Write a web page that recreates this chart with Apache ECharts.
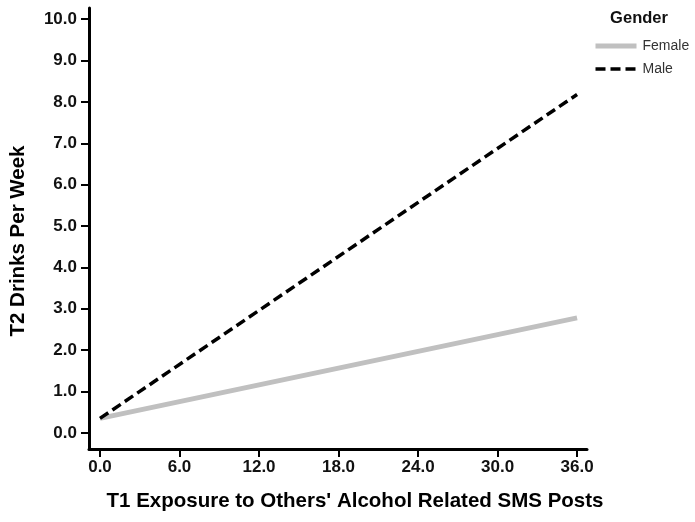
<!DOCTYPE html>
<html>
<head>
<meta charset="utf-8">
<script src="https://cdn.jsdelivr.net/npm/echarts@6/dist/echarts.min.js"></script>
<style>
html,body{margin:0;padding:0;background:#fff;}
#main{width:695px;height:522px;}
</style>
</head>
<body>
<div id="main"></div>
<script>
var exposure = [0, 36];
var female = [0.35, 2.78];
var male = [0.35, 8.18];
var xTicks = [0, 6, 12, 18, 24, 30, 36];
var yTicks = [0, 1, 2, 3, 4, 5, 6, 7, 8, 9, 10];
var seriesNames = ['Female', 'Male'];
var xTitle = "T1 Exposure to Others' Alcohol Related SMS Posts";
var yTitle = 'T2 Drinks Per Week';
var legendTitle = 'Gender';

function pairs(xs, ys) { return xs.map(function (x, i) { return [x, ys[i]]; }); }

var FONT = '"Liberation Sans", Arial, sans-serif';
var chart = echarts.init(document.getElementById('main'), null, {renderer: 'canvas'});
chart.setOption({
  animation: false,
  backgroundColor: '#fff',
  grid: {left: 89, right: 108, top: 8, bottom: 73, containLabel: false},
  xAxis: {
    type: 'value', min: -0.83, max: 36.75,
    splitLine: {show: false},
    axisLine: {show: true, onZero: false, lineStyle: {color: '#000', width: 3}},
    axisTick: {show: true, length: 8, lineStyle: {color: '#000', width: 2}, customValues: xTicks},
    axisLabel: {color: '#111', fontFamily: FONT, fontWeight: 'bold', fontSize: 17, margin: 10,
      customValues: xTicks, formatter: function (v) { return v.toFixed(1); }}
  },
  yAxis: {
    type: 'value', min: -0.39, max: 10.27,
    splitLine: {show: false},
    axisLine: {show: true, onZero: false, lineStyle: {color: '#000', width: 3}},
    axisTick: {show: true, length: 8, lineStyle: {color: '#000', width: 2}, customValues: yTicks},
    axisLabel: {color: '#111', fontFamily: FONT, fontWeight: 'bold', fontSize: 17, margin: 12,
      customValues: yTicks, formatter: function (v) { return v.toFixed(1); }}
  },
  legend: {
    orient: 'vertical', left: 593, top: 39, padding: 0, itemWidth: 41, itemHeight: 14, itemGap: 9,
    textStyle: {fontFamily: FONT, fontSize: 14, color: '#333', padding: [0, 0, 0, 1]},
    data: [
      {name: seriesNames[0], itemStyle: {opacity: 0}, lineStyle: {color: '#c0c0c0', width: 5}},
      {name: seriesNames[1], itemStyle: {opacity: 0}, lineStyle: {color: '#000', width: 3.5, type: [10, 5]}}
    ]
  },
  graphic: [
    {type: 'text', x: 639, y: 18, style: {text: legendTitle, font: 'bold 16.5px ' + FONT, fill: '#111', align: 'center', verticalAlign: 'middle'}},
    {type: 'text', x: 355, y: 501, style: {text: xTitle, font: 'bold 20.5px ' + FONT, fill: '#000', align: 'center', verticalAlign: 'middle'}},
    {type: 'text', x: 18, y: 241, rotation: Math.PI / 2, style: {text: yTitle, font: 'bold 20.5px ' + FONT, fill: '#000', align: 'center', verticalAlign: 'middle'}}
  ],
  series: [
    {name: seriesNames[0], type: 'line', data: pairs(exposure, female), symbol: 'none',
      lineStyle: {color: '#c0c0c0', width: 5}, itemStyle: {color: '#c0c0c0'}},
    {name: seriesNames[1], type: 'line', data: pairs(exposure, male), symbol: 'none',
      lineStyle: {color: '#000', width: 3.5, type: [10, 5]}, itemStyle: {color: '#000'}}
  ]
});
</script>
</body>
</html>
